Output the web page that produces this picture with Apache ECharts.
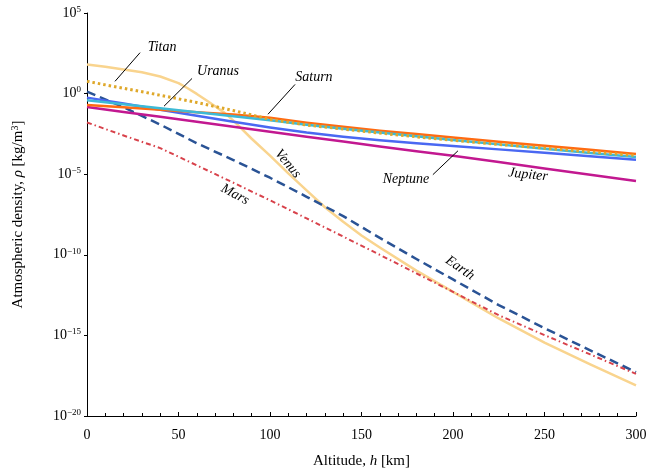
<!DOCTYPE html>
<html>
<head>
<meta charset="utf-8">
<script src="https://cdn.jsdelivr.net/npm/echarts@6/dist/echarts.min.js"></script>
<style>
  html, body { margin: 0; padding: 0; background: #fff; }
  #chart { width: 651px; height: 474px; }
</style>
</head>
<body>
<div id="chart"></div>
<script>
// altitude grid shared by most curves [km]
var altitude = [0, 20, 40, 60, 80, 100, 120, 140, 160, 180, 200, 225, 250, 275, 300]
// Venus has a sharp knee, so it gets its own finer grid
var venusAltitude = [0, 10, 20, 30, 40, 50, 55, 60, 65, 70, 75, 80, 90, 100, 110, 120, 130, 140, 150, 160, 180, 200, 225, 250, 275, 300]

// densities, stored as log10(rho)
var venusLog   = [1.8, 1.66, 1.5, 1.32, 1.06, 0.65, 0.33, -0.02, -0.4, -0.78, -1.18, -1.68, -2.8, -3.85, -4.95, -6.0, -7.05, -7.95, -8.8, -9.55, -10.98, -12.3, -13.95, -15.45, -16.8, -18.1]
var earthLog   = [0.12, -0.85, -1.92, -3.08, -4.12, -5.22, -6.4, -7.6, -8.95, -10.26, -11.53, -13.12, -14.55, -15.93, -17.28]
var marsLog    = [-1.79, -2.6, -3.38, -4.45, -5.53, -6.62, -7.74, -8.87, -10.0, -11.15, -12.3, -13.75, -14.98, -16.18, -17.39]
var titanLog   = [0.76, 0.33, -0.1, -0.55, -1.05, -1.6, -1.95, -2.2, -2.45, -2.68, -2.9, -3.15, -3.38, -3.62, -3.84]
var saturnLog  = [-0.70, -0.85, -1.0, -1.15, -1.3, -1.5, -1.8, -2.05, -2.3, -2.5, -2.72, -2.98, -3.23, -3.49, -3.74]
var uranusLog  = [-0.41, -0.66, -0.91, -1.16, -1.41, -1.66, -1.93, -2.18, -2.42, -2.65, -2.88, -3.15, -3.42, -3.68, -3.94]
var neptuneLog = [-0.25, -0.62, -1.0, -1.38, -1.75, -2.1, -2.42, -2.68, -2.9, -3.08, -3.25, -3.46, -3.67, -3.89, -4.1]
var jupiterLog = [-0.83, -1.14, -1.44, -1.75, -2.05, -2.36, -2.67, -2.97, -3.28, -3.58, -3.86, -4.25, -4.64, -5.03, -5.42]

// planet name labels: [text, h, log10(rho), clockwise rotation deg]
var notes = [
  ['Titan', 41, 2.85, 0],
  ['Uranus', 71.6, 1.37, 0],
  ['Saturn', 124, 1.0, 0],
  ['Neptune', 174.3, -5.34, 0],
  ['Jupiter', 241, -5.03, 6],
  ['Venus', 109.8, -4.35, 50],
  ['Mars', 80.9, -6.26, 28],
  ['Earth', 203.8, -10.82, 35]
]
// leader lines: [h1, log1, h2, log2]
var leaders = [
  [29, 2.54, 15.3, 0.76],
  [57.4, 0.94, 42.1, -0.78],
  [113.7, 0.57, 98.9, -1.28],
  [189, -5.03, 202.7, -3.55]
]

var serif = '"Liberation Serif", "Times New Roman", serif'

function pairs(xs, logs) {
  return xs.map(function (h, i) { return [h, Math.pow(10, logs[i])] })
}

function line(name, xs, logs, color, width, type) {
  return {
    name: name,
    type: 'line',
    data: pairs(xs, logs),
    showSymbol: false,
    smooth: false,
    lineStyle: { color: color, width: width, type: type || 'solid', cap: 'butt', join: 'round' },
    silent: true,
    z: 2
  }
}

var chart = echarts.init(document.getElementById('chart'), null, { renderer: 'canvas' })

var option = {
  animation: false,
  backgroundColor: '#fff',
  textStyle: { fontFamily: serif },
  grid: { left: 87, right: 15, top: 13, bottom: 55, containLabel: false },
  xAxis: {
    type: 'value',
    min: 0,
    max: 300,
    interval: 50,
    name: 'Altitude, {i|h} [km]',
    nameLocation: 'middle',
    nameGap: 38,
    nameTextStyle: {
      fontFamily: serif, fontSize: 15, color: '#000',
      rich: { i: { fontFamily: serif, fontSize: 15, fontStyle: 'italic', color: '#000' } }
    },
    axisLine: { show: true, lineStyle: { color: '#000', width: 1 } },
    axisTick: { show: true, inside: true, length: 4, lineStyle: { color: '#000' } },
    minorTick: { show: true, splitNumber: 5, length: 3, lineStyle: { color: '#000' } },
    splitLine: { show: false },
    axisLabel: { color: '#000', fontSize: 14, fontFamily: serif, margin: 12 }
  },
  yAxis: {
    type: 'log',
    logBase: 10,
    min: 1e-20,
    max: 1e5,
    interval: 5,
    name: 'Atmospheric density, {i|ρ} [kg/m{s|3}]',
    nameLocation: 'middle',
    nameRotate: 90,
    nameGap: 61,
    nameTextStyle: {
      fontFamily: serif, fontSize: 15, color: '#000',
      rich: {
        i: { fontFamily: serif, fontSize: 15, fontStyle: 'italic', color: '#000' },
        s: { fontFamily: serif, fontSize: 10, color: '#000', verticalAlign: 'top', padding: [0, 0, 6, 0] }
      }
    },
    axisLine: { show: true, lineStyle: { color: '#000', width: 1 } },
    axisTick: { show: true, inside: false, length: 3, lineStyle: { color: '#000' } },
    splitLine: { show: false },
    axisLabel: {
      color: '#000',
      margin: 6,
      formatter: function (v) {
        var e = Math.round(Math.log(v) / Math.LN10)
        var s = e < 0 ? '\u2212' + (-e) : String(e)
        return '{b|10}{s|' + s + '}'
      },
      rich: {
        b: { fontFamily: serif, fontSize: 14, color: '#000' },
        s: { fontFamily: serif, fontSize: 9, color: '#000', verticalAlign: 'top', padding: [0, 0, 7, 0] }
      }
    }
  },
  series: [
    line('Venus', venusAltitude, venusLog, '#F9D48E', 2.5),
    line('Earth', altitude, earthLog, '#2A5395', 2.5, [9, 5]),
    line('Mars', altitude, marsLog, '#D8424B', 2, [5, 3, 1.5, 3]),
    line('Jupiter', altitude, jupiterLog, '#C21890', 2.5),
    line('Neptune', altitude, neptuneLog, '#4A68F2', 2.5),
    line('Saturn', altitude, saturnLog, '#FF6B12', 2.5),
    line('Uranus', altitude, uranusLog, '#3DBAD6', 2.5),
    line('Titan', altitude, titanLog, '#DFA82A', 3, [2.5, 3])
  ]
}

chart.setOption(option)

// annotations placed in data space, converted to pixels by the chart itself
var gfx = []
notes.forEach(function (n) {
  var p = chart.convertToPixel({ gridIndex: 0 }, [n[1], Math.pow(10, n[2])])
  gfx.push({
    type: 'text',
    x: p[0],
    y: p[1],
    rotation: -n[3] * Math.PI / 180,
    style: {
      text: n[0],
      fill: '#000',
      font: 'italic 14px ' + serif,
      align: 'center',
      verticalAlign: 'middle'
    },
    z: 10
  })
})
leaders.forEach(function (l) {
  var a = chart.convertToPixel({ gridIndex: 0 }, [l[0], Math.pow(10, l[1])])
  var b = chart.convertToPixel({ gridIndex: 0 }, [l[2], Math.pow(10, l[3])])
  gfx.push({
    type: 'line',
    shape: { x1: a[0], y1: a[1], x2: b[0], y2: b[1] },
    style: { stroke: '#000', lineWidth: 1 },
    z: 10
  })
})
chart.setOption({ graphic: gfx })
</script>
</body>
</html>
